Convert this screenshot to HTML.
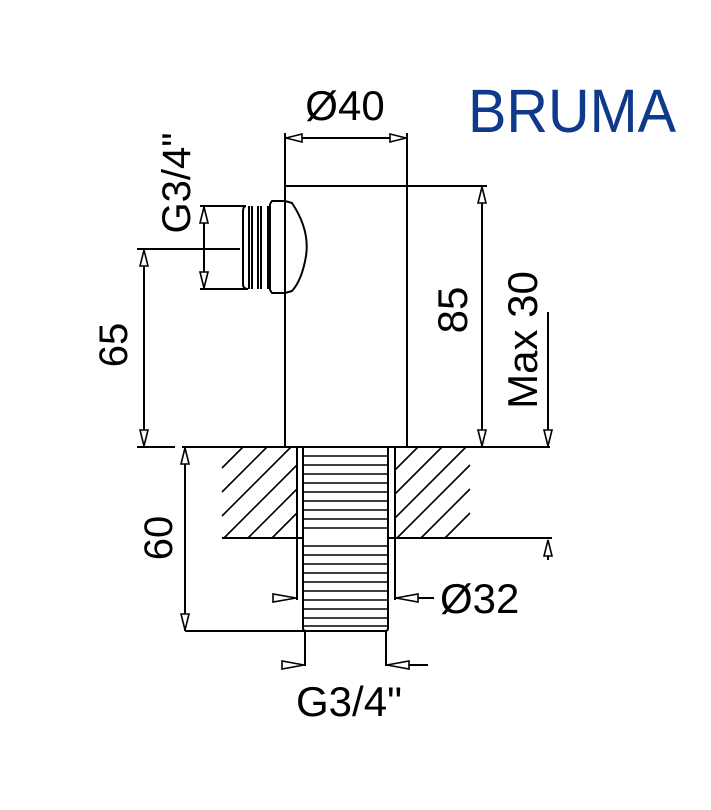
<!DOCTYPE html>
<html><head><meta charset="utf-8"><style>
html,body{margin:0;padding:0;background:#fff;}
svg{display:block;}
text{font-family:"Liberation Sans",sans-serif;fill:#000;}
</style></head><body>
<svg width="711" height="810" viewBox="0 0 711 810" xmlns="http://www.w3.org/2000/svg">
<g stroke="#000" stroke-width="2" fill="none">
<line x1="285" y1="133" x2="285" y2="447"/>
<line x1="407" y1="133" x2="407" y2="447"/>
<line x1="285" y1="186" x2="487" y2="186"/>
<line x1="285" y1="138" x2="407" y2="138"/>
<line x1="200" y1="206" x2="246" y2="206"/>
<line x1="200" y1="289" x2="246" y2="289"/>
<path d="M246,206 Q243,206 243,212 L243,284 Q243,289 248,289"/>
<line x1="249" y1="206" x2="249" y2="289"/>
<line x1="252" y1="206" x2="252" y2="289"/>
<line x1="258" y1="206" x2="258" y2="289"/>
<line x1="261" y1="206" x2="261" y2="289"/>
<line x1="268" y1="206" x2="268" y2="289"/>
<path d="M270,204 L272,201 L285,201 M270,204 L270,290 L272,293 L285,293"/>
<path d="M285,201 L292,203 Q310,230 306,256 Q302,280 292,291 L285,293"/>
<line x1="204" y1="206" x2="204" y2="289"/>
<line x1="137" y1="249" x2="240" y2="249"/>
<line x1="144" y1="249" x2="144" y2="447"/>
<line x1="137" y1="447" x2="175" y2="447"/>
<line x1="182" y1="447" x2="550" y2="447"/>
<line x1="222" y1="538" x2="303" y2="538"/>
<line x1="388" y1="538" x2="470" y2="538"/>
<line x1="470" y1="538" x2="552" y2="538"/>
<line x1="297" y1="447" x2="297" y2="600"/>
<line x1="395" y1="447" x2="395" y2="600"/>
</g>
<g stroke="#000" stroke-width="1.6">
<line x1="222" y1="468" x2="243" y2="447"/>
<line x1="222" y1="492" x2="267" y2="447"/>
<line x1="222" y1="516" x2="291" y2="447"/>
<line x1="224" y1="538" x2="297" y2="465"/>
<line x1="248" y1="538" x2="297" y2="489"/>
<line x1="272" y1="538" x2="297" y2="513"/>
<line x1="395" y1="470" x2="418" y2="447"/>
<line x1="395" y1="494" x2="442" y2="447"/>
<line x1="395" y1="518" x2="466" y2="447"/>
<line x1="397" y1="538" x2="470" y2="465"/>
<line x1="421" y1="538" x2="470" y2="489"/>
<line x1="445" y1="538" x2="470" y2="513"/>
</g>
<g stroke="#000" stroke-width="2" fill="none">
<path d="M303,447 L303,628 Q303,631 306,631 L385,631 Q388,631 388,628 L388,447"/>
</g>
<g stroke="#000" stroke-width="1.4">
<line x1="303" y1="456" x2="388" y2="456"/><line x1="303" y1="465" x2="388" y2="465"/>
<line x1="303" y1="474" x2="388" y2="474"/><line x1="303" y1="483" x2="388" y2="483"/>
<line x1="303" y1="492" x2="388" y2="492"/><line x1="303" y1="501" x2="388" y2="501"/>
<line x1="303" y1="510" x2="388" y2="510"/><line x1="303" y1="519" x2="388" y2="519"/>
<line x1="303" y1="528" x2="388" y2="528"/><line x1="303" y1="546" x2="388" y2="546"/>
<line x1="303" y1="555" x2="388" y2="555"/><line x1="303" y1="564" x2="388" y2="564"/>
<line x1="303" y1="573" x2="388" y2="573"/><line x1="303" y1="582" x2="388" y2="582"/>
<line x1="303" y1="591" x2="388" y2="591"/><line x1="303" y1="600" x2="388" y2="600"/>
<line x1="303" y1="609" x2="388" y2="609"/><line x1="303" y1="618" x2="388" y2="618"/>
<line x1="303" y1="626" x2="388" y2="626"/>
</g>
<g stroke="#000" stroke-width="2" fill="none">
<line x1="185" y1="447" x2="185" y2="631"/>
<line x1="185" y1="631" x2="305" y2="631"/>
<line x1="305" y1="631" x2="305" y2="666"/>
<line x1="386" y1="631" x2="386" y2="666"/>
<line x1="386" y1="665" x2="428" y2="665"/>
<line x1="396" y1="598" x2="434" y2="598"/>
<line x1="482" y1="186" x2="482" y2="447"/>
<line x1="548" y1="312" x2="548" y2="447"/>
<line x1="548" y1="545" x2="548" y2="560"/>
</g>
<g stroke="#000" stroke-width="1.6" fill="#fff">
<polygon points="286,138 302,134 302,142"/>
<polygon points="406,138 390,134 390,142"/>
<polygon points="482,187 478,203 486,203"/>
<polygon points="482,446 478,430 486,430"/>
<polygon points="548,446 544,430 552,430"/>
<polygon points="548,540 544,556 552,556"/>
<polygon points="144,250 140,266 148,266"/>
<polygon points="144,446 140,430 148,430"/>
<polygon points="185,448 181,464 189,464"/>
<polygon points="185,630 181,614 189,614"/>
<polygon points="204,207 200,223 208,223"/>
<polygon points="204,288 200,272 208,272"/>
<polygon points="296,598 273,594 273,602"/>
<polygon points="396,598 418,594 418,602"/>
<polygon points="304,665 282,661 282,669"/>
<polygon points="387,665 409,661 409,669"/>
</g>
<text x="345" y="120" font-size="42" text-anchor="middle">Ø40</text>
<text x="440" y="613" font-size="42">Ø32</text>
<text x="349" y="716" font-size="42" text-anchor="middle">G3/4"</text>
<text transform="translate(190,183) rotate(-90)" font-size="40" text-anchor="middle">G3/4"</text>
<text transform="translate(127,345) rotate(-90)" font-size="40" text-anchor="middle">65</text>
<text transform="translate(172,538) rotate(-90)" font-size="40" text-anchor="middle">60</text>
<text transform="translate(467,310) rotate(-90)" font-size="42" text-anchor="middle">85</text>
<text transform="translate(537,340) rotate(-90)" font-size="42" text-anchor="middle">Max 30</text>
<text x="468" y="132" font-size="61" textLength="208" lengthAdjust="spacingAndGlyphs" style="fill:#0f3a8c">BRUMA</text>
</svg>
</body></html>
